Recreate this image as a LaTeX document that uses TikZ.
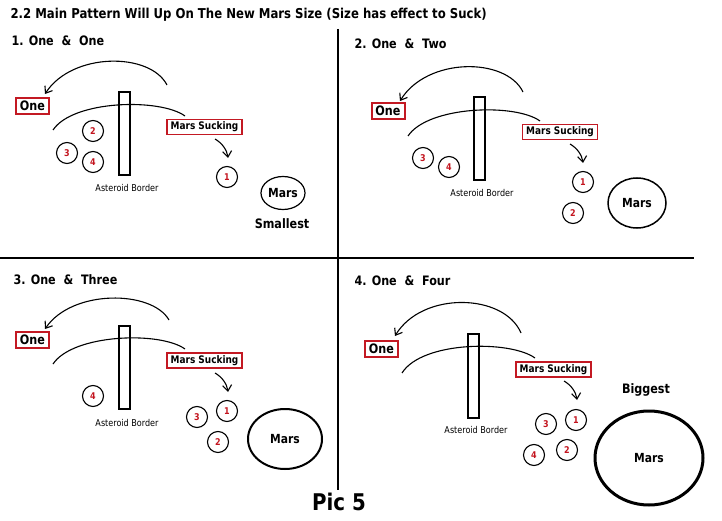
\documentclass[tikz,border=0pt]{standalone}
\usepackage{fontspec}
\setmainfont{DejaVu Sans}[FakeStretch=0.86]
\usetikzlibrary{arrows.meta,shapes.geometric}
\definecolor{boxred}{RGB}{195,25,35}
\definecolor{numred}{RGB}{195,20,30}
\tikzset{
  line/.style={line width=1.1pt},
  curvearrow/.style={line, -{Straight Barb[length=6pt,width=9pt,line width=1.1pt]}},
  divider/.style={line width=1.4pt},
  onebox/.style={draw=boxred, line width=2pt, fill=white, inner sep=0pt, minimum width=33pt, minimum height=16pt, font=\bfseries\fontsize{13}{13}\selectfont},
  suckbox/.style={draw=boxred, line width=1.4pt, fill=white, inner sep=0pt, minimum width=75pt, minimum height=15pt, font=\bfseries\fontsize{10.4}{11}\selectfont},
  rock/.style={draw, line width=1.1pt, circle, inner sep=0pt, minimum size=21pt, text=numred, font=\bfseries\fontsize{9.3}{10}\selectfont},
  wall/.style={draw, line width=1.1pt, inner sep=0pt, minimum width=11pt},
  walllbl/.style={font=\fontsize{9.4}{10}\selectfont},
  panelttl/.style={anchor=west, font=\bfseries\fontsize{13}{13}\selectfont},
  marsnode/.style={draw, ellipse, inner sep=0pt, font=\bfseries\fontsize{12.5}{13}\selectfont},
  sizelbl/.style={font=\bfseries\fontsize{13}{13}\selectfont},
}
\begin{document}
\begin{tikzpicture}[x=1pt,y=-1pt]
\useasboundingbox (0,0) rectangle (722,521);
% title
\node[anchor=west, font=\bfseries\fontsize{13.6}{14}\selectfont] (title) at (7,15) {2.2 Main Pattern Will Up On The New Mars Size (Size has effect to Suck)};
% dividers
\coordinate (vtop) at (338,29);
\coordinate (vbot) at (338,490);
\coordinate (hl) at (0,258);
\coordinate (hr) at (694,258);
\draw[divider] (vtop) -- (vbot);
\draw[divider] (hl) -- (hr);

% ===== Panel 1 =====
\node[panelttl] (t1) at (8,41) {1. One \ \& \ One};
\node[wall, minimum height=83pt] (w1) at (124.5,133.5) {};
\node[walllbl] (wl1) at (127,188) {Asteroid Border};
\coordinate (u1s) at (167,85);
\coordinate (u1e) at (45,94);
\draw[curvearrow] (u1s) .. controls +(-17,-33) and +(27,-42) .. (u1e);
\coordinate (l1s) at (53,130);
\coordinate (l1e) at (185,116);
\draw[line] (l1s) .. controls +(20,-30) and +(-25,-18) .. (l1e);
\node[onebox] (o1) at (32.5,106) {One};
\node[suckbox] (s1) at (204.5,127) {Mars Sucking};
\coordinate (a1s) at (215,139);
\coordinate (a1e) at (228,158);
\draw[curvearrow] (a1s) .. controls +(7,4) and +(-1,-8) .. (a1e);
\node[rock] (c12) at (93,131) {2};
\node[rock] (c13) at (67,153) {3};
\node[rock] (c14) at (93,162) {4};
\node[rock] (c11) at (227,177) {1};
\node[marsnode, line width=1.2pt, minimum width=44pt, minimum height=33pt] (m1) at (283,193) {Mars};
\node[sizelbl] (sz1) at (282,224) {Smallest};

% ===== Panel 2 =====
\node[panelttl] (t2) at (351,44) {2. One \ \& \ Two};
\node[wall, minimum height=83pt] (w2) at (479.5,138.5) {};
\node[walllbl] (wl2) at (482,193) {Asteroid Border};
\coordinate (u2s) at (523,92);
\coordinate (u2e) at (400,101);
\draw[curvearrow] (u2s) .. controls +(-17,-35) and +(27,-44) .. (u2e);
\coordinate (l2s) at (408,136);
\coordinate (l2e) at (540,121);
\draw[line] (l2s) .. controls +(20,-30) and +(-25,-18) .. (l2e);
\node[onebox] (o2) at (388,111) {One};
\node[suckbox] (s2) at (560,132) {Mars Sucking};
\coordinate (a2s) at (570,144);
\coordinate (a2e) at (583,163);
\draw[curvearrow] (a2s) .. controls +(7,4) and +(-1,-8) .. (a2e);
\node[rock] (c23) at (423,158) {3};
\node[rock] (c24) at (449,167) {4};
\node[rock] (c21) at (583,182) {1};
\node[rock] (c22) at (573,213) {2};
\node[marsnode, line width=1.5pt, minimum width=58pt, minimum height=50pt] (m2) at (637,203) {Mars};

% ===== Panel 3 =====
\node[panelttl] (t3) at (10,280) {3. One \ \& \ Three};
\node[wall, minimum height=83pt] (w3) at (124.5,367.5) {};
\node[walllbl] (wl3) at (127,423) {Asteroid Border};
\coordinate (u3s) at (169,320);
\coordinate (u3e) at (45,329);
\draw[curvearrow] (u3s) .. controls +(-17,-30) and +(27,-40) .. (u3e);
\coordinate (l3s) at (53,364);
\coordinate (l3e) at (185,349);
\draw[line] (l3s) .. controls +(20,-30) and +(-25,-18) .. (l3e);
\node[onebox] (o3) at (32.5,340) {One};
\node[suckbox] (s3) at (204.5,360.5) {Mars Sucking};
\coordinate (a3s) at (215,373);
\coordinate (a3e) at (228,392);
\draw[curvearrow] (a3s) .. controls +(7,4) and +(-1,-8) .. (a3e);
\node[rock] (c34) at (93,396) {4};
\node[rock] (c33) at (197,417) {3};
\node[rock] (c31) at (227,411) {1};
\node[rock] (c32) at (218,442) {2};
\node[marsnode, line width=2pt, minimum width=74pt, minimum height=60pt] (m3) at (285,439) {Mars};

% ===== Panel 4 =====
\node[panelttl] (t4) at (351,281) {4. One \ \& \ Four};
\node[wall, minimum height=84pt] (w4) at (473.5,376) {};
\node[walllbl] (wl4) at (476,430) {Asteroid Border};
\coordinate (u4s) at (521,333);
\coordinate (u4e) at (395,336);
\draw[curvearrow] (u4s) .. controls +(-17,-40) and +(27,-45) .. (u4e);
\coordinate (l4s) at (402,373);
\coordinate (l4e) at (535,358);
\draw[line] (l4s) .. controls +(20,-32) and +(-25,-18) .. (l4e);
\node[onebox] (o4) at (381.5,348.5) {One};
\node[suckbox] (s4) at (553.5,369.5) {Mars Sucking};
\coordinate (a4s) at (564,381);
\coordinate (a4e) at (577,400);
\draw[curvearrow] (a4s) .. controls +(7,4) and +(-1,-8) .. (a4e);
\node[rock] (c43) at (546,424) {3};
\node[rock] (c41) at (576,420) {1};
\node[rock] (c44) at (534,455) {4};
\node[rock] (c42) at (567,450) {2};
\node[sizelbl] (sz4) at (646,390) {Biggest};
\node[marsnode, line width=3pt, minimum width=108pt, minimum height=94pt] (m4) at (649,458) {Mars};

% footer
\node[font=\bfseries\fontsize{23}{23}\selectfont] (pic) at (339,502) {Pic 5};
\end{tikzpicture}
\end{document}
